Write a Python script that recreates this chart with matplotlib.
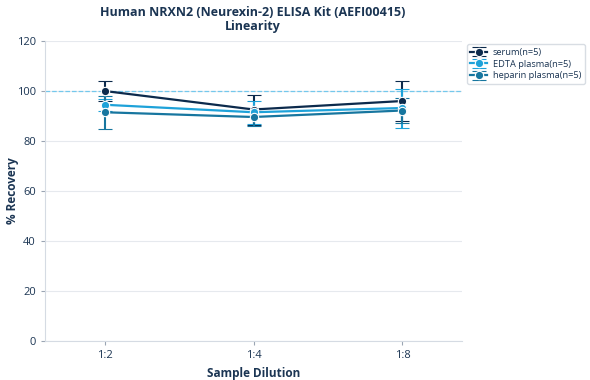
import numpy as np
import matplotlib
matplotlib.use('Agg')
import matplotlib.pyplot as plt

plt.rcParams['font.family'] = ['Open Sans', 'DejaVu Sans']

dilutions = ['1:2', '1:4', '1:8']
series = ['serum(n=5)', 'EDTA plasma(n=5)', 'heparin plasma(n=5)']
recovery = {
    'serum(n=5)':          [100.0, 92.6, 96.0],
    'EDTA plasma(n=5)':    [94.5, 91.5, 93.2],
    'heparin plasma(n=5)': [91.5, 89.6, 92.2],
}
sd = {
    'serum(n=5)':          [4.0, 6.0, 8.0],
    'EDTA plasma(n=5)':    [2.5, 4.5, 7.8],
    'heparin plasma(n=5)': [6.5, 3.5, 5.0],
}
colors = ['#0c2a4c', '#1ea2d9', '#17769f']
txt = '#1b3553'

fig = plt.figure(figsize=(5.9, 3.8), dpi=100)
ax = fig.add_axes([45/590, 39/380, 417/590, 300/380])

x = np.arange(len(dilutions))
ax.axhline(100, ls='--', color='#74c8ec', lw=0.9, zorder=1)
for s, c in zip(series, colors):
    ax.errorbar(x, recovery[s], yerr=sd[s], color=c, marker='o', ms=6,
                mec='white', mew=0.8, lw=1.6, capsize=5, capthick=1.5,
                elinewidth=1.5, label=s, zorder=3)

ax.set_xticks(x)
ax.set_xticklabels(dilutions)
ax.set_xlim(-0.40, 2.40)
ax.set_ylim(0, 120)
ax.set_yticks(np.arange(0, 121, 20))
ax.grid(axis='y', color='#e6e9ee', lw=0.8)
ax.set_axisbelow(True)
for sp in ['top', 'right']:
    ax.spines[sp].set_visible(False)
for sp in ['left', 'bottom']:
    ax.spines[sp].set_color('#d5dbe3')
ax.tick_params(colors=txt, labelsize=8, length=3)
ax.tick_params(axis='both', color='#9aa5b3')

ax.set_xlabel('Sample Dilution', fontsize=8.5, fontweight='bold', color=txt)
ax.set_ylabel('% Recovery', fontsize=8.5, fontweight='bold', color=txt)
ax.yaxis.set_label_coords(-0.062, 0.5)
fig.suptitle('Human NRXN2 (Neurexin-2) ELISA Kit (AEFI00415)\nLinearity',
             x=253/590, y=0.985, fontsize=9, fontweight='bold', color=txt,
             linespacing=1.1)

leg = ax.legend(loc='upper left', bbox_to_anchor=(1.0, 1.005), fontsize=6.7,
                frameon=True, handlelength=1.8, borderpad=0.4, labelspacing=0.3,
                handletextpad=0.6)
leg.get_frame().set_edgecolor('#cfd5dd')
for t in leg.get_texts():
    t.set_color(txt)

fig.savefig('out.png', dpi=100)
